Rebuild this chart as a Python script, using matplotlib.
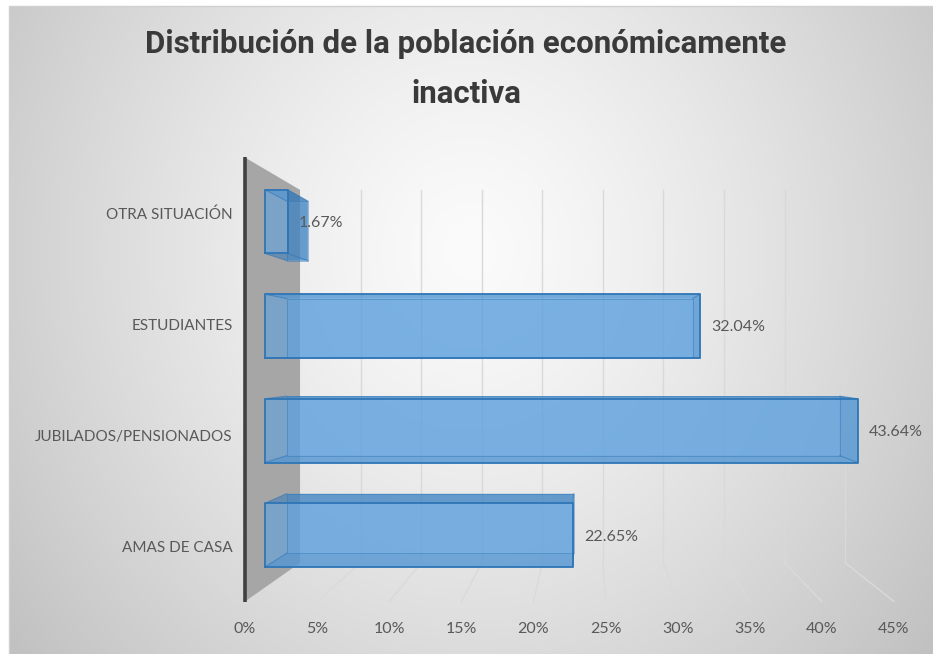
import numpy as np
import matplotlib
matplotlib.use("Agg")
import matplotlib.pyplot as plt
from matplotlib.patches import Polygon

# ---------------- data ----------------
categories = ["AMAS DE CASA", "JUBILADOS/PENSIONADOS", "ESTUDIANTES", "OTRA SITUACIÓN"]
values = [22.65, 43.64, 32.04, 1.67]
value_labels = ["22.65%", "43.64%", "32.04%", "1.67%"]
x_ticks = [0, 5, 10, 15, 20, 25, 30, 35, 40, 45]
x_tick_labels = [f"{t}%" for t in x_ticks]
title_lines = ["Distribución de la población económicamente", "inactiva"]

# ---------------- style ----------------
W, H = 933, 654
FONT = "Lato"
TITLE_FONT = ["Roboto", "Lato", "DejaVu Sans"]
TXT = "#595959"
BAR = "#5fa2de"
BAR_DARK = "#2e75b6"
WALL = "#a6a6a6"
GRID = "#d9d9d9"

# perspective: vanishing point (in front-plane data coords) and depths
VX, VY = 23.85, 1.676
K_BAR_FRONT, K_BAR_BACK, K_WALL = 0.942, 0.879, 0.84
HALF = 0.305


def P(v, c, k):
    return (VX + k * (v - VX), VY + k * (c - VY))


fig = plt.figure(figsize=(W / 100, H / 100), dpi=100)
fig.patch.set_facecolor("white")

# background gradient
bg = fig.add_axes([0, 0, 1, 1])
bg.set_xlim(0, W)
bg.set_ylim(H, 0)
bg.axis("off")
yy, xx = np.mgrid[0:H, 0:W]
r = np.sqrt(((xx - 470) / 560.0) ** 2 + ((yy - 250) / 620.0) ** 2)
val = (251 - 55 * r ** 1.3) / 255.0
val = np.clip(val, 0, 1)
img = np.dstack([val, val, val])
bg.imshow(img[6:, 9:], extent=(9, W, H, 6), zorder=0, aspect="auto")
bg.plot([9, 9, W], [H, 6, 6], color="#d0d0d0", lw=1.0, zorder=1)

# front plane axes
left, right, top, bottom = 245, 894, 157.5, 601.5
ax = fig.add_axes([left / W, (H - bottom) / H, (right - left) / W, (bottom - top) / H])
ax.set_facecolor("none")
ax.set_xlim(0, 45)
ax.set_ylim(-0.5, 3.5)
for s in ax.spines.values():
    s.set_visible(False)
ax.set_xticks(x_ticks)
ax.set_xticklabels(x_tick_labels, fontsize=11.5, color=TXT, family=FONT)
ax.set_yticks(range(len(categories)))
ax.set_yticklabels(categories, fontsize=11, color=TXT, family=FONT)
ax.tick_params(axis="x", length=0, pad=15)
ax.tick_params(axis="y", length=0, pad=9)

# gridlines on back wall + floor
for t in x_ticks[1:]:
    x0, y0 = P(t, -0.5, K_WALL)
    x1, y1 = P(t, 3.5, K_WALL)
    x2, y2 = P(t, -0.5, 1.0)
    ax.plot([x1, x0], [y1, y0], color=GRID, lw=1.0, zorder=1, clip_on=False)
    ax.plot([x0, x2], [y0, y2], color="#dadada", lw=1.0, zorder=1, clip_on=False)

# side wall
wall = [P(0, -0.5, 1.0), P(0, 3.5, 1.0), P(0, 3.5, K_WALL), P(0, -0.5, K_WALL)]
ax.add_patch(Polygon(wall, closed=True, facecolor=WALL, edgecolor="none", zorder=2, clip_on=False))
ax.plot([0, 0], [-0.5, 3.5], color="#404040", lw=2.6, zorder=3, clip_on=False, solid_capstyle="butt")

# bars (translucent boxes)
for i, (v, lab) in enumerate(zip(values, value_labels)):
    c = i
    f = {n: P(x, y, K_BAR_FRONT) for n, (x, y) in
         {"bl": (0, c - HALF), "tl": (0, c + HALF), "tr": (v, c + HALF), "br": (v, c - HALF)}.items()}
    b = {n: P(x, y, K_BAR_BACK) for n, (x, y) in
         {"bl": (0, c - HALF), "tl": (0, c + HALF), "tr": (v, c + HALF), "br": (v, c - HALF)}.items()}
    faces = [
        ([b["bl"], b["tl"], b["tr"], b["br"]], BAR, 0.55, 4),
        ([f["tl"], f["tr"], b["tr"], b["tl"]], BAR_DARK, 0.5, 5),
        ([f["bl"], f["br"], b["br"], b["bl"]], BAR_DARK, 0.5, 5),
        ([f["tr"], f["br"], b["br"], b["tr"]], BAR_DARK, 0.5, 5),
        ([f["bl"], f["tl"], f["tr"], f["br"]], BAR, 0.6, 6),
    ]
    for pts, col, a, z in faces:
        ax.add_patch(Polygon(pts, closed=True, facecolor=col, alpha=a, edgecolor="none",
                             zorder=z, clip_on=False))
    # edges
    fr = [f["bl"], f["tl"], f["tr"], f["br"], f["bl"]]
    ax.plot([p[0] for p in fr], [p[1] for p in fr], color=BAR_DARK, lw=1.3, zorder=7, clip_on=False)
    bk = [b["bl"], b["tl"], b["tr"], b["br"], b["bl"]]
    ax.plot([p[0] for p in bk], [p[1] for p in bk], color=BAR_DARK, lw=0.7, alpha=0.45, zorder=7, clip_on=False)
    for n in ["bl", "tl", "tr", "br"]:
        ax.plot([f[n][0], b[n][0]], [f[n][1], b[n][1]], color=BAR_DARK, lw=0.8, alpha=0.6,
                zorder=7, clip_on=False)
    lx, ly = P(v, c, K_BAR_FRONT)
    ax.annotate(lab, (lx, ly), xytext=(8, -1), textcoords="offset points", ha="left", va="center",
                fontsize=11.5, color=TXT, family=FONT, zorder=8, annotation_clip=False)

fig.text(466 / W, 1 - 69 / H, "\n".join(title_lines), ha="center", va="center", fontsize=22.5,
         color="#3a3a3a", family=TITLE_FONT, fontweight="bold", linespacing=1.85)

fig.savefig("out.png", dpi=100, facecolor=fig.get_facecolor())
